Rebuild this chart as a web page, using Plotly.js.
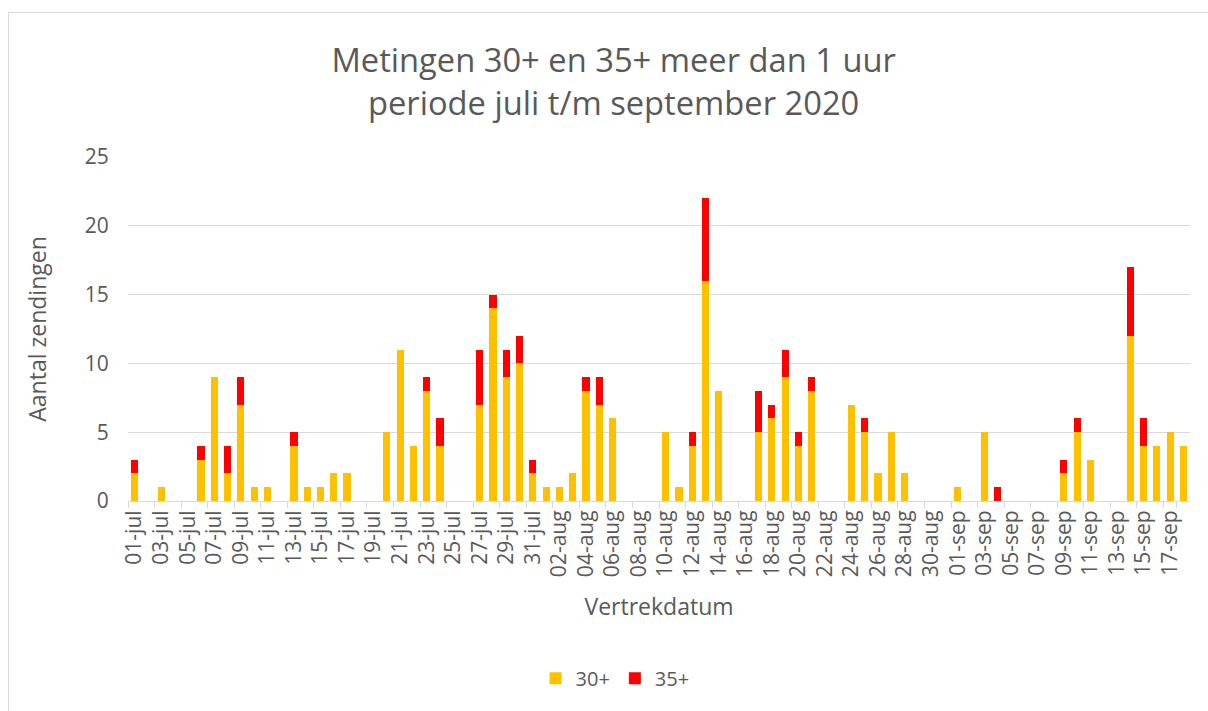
<!DOCTYPE html>
<html>
<head>
<meta charset="utf-8">
<script src="https://cdn.plot.ly/plotly-3.0.1.min.js"></script>
<style>
html,body{margin:0;padding:0;background:#fff;}
#frame{position:absolute;left:8px;top:12px;width:1300px;height:800px;border-left:1px solid #d9d9d9;border-top:1px solid #d9d9d9;pointer-events:none;}
#chart{width:1208px;height:711px;}
</style>
</head>
<body>
<div id="chart"></div>
<div id="frame"></div>
<script>
// Dates (Vertrekdatum) 01-jul .. 18-sep 2020
const julDays = 31, augDays = 31, sepDays = 18;
function pad(n){return (n<10?'0':'')+n;}
const categories = [];
for(let d=1; d<=julDays; d++) categories.push(pad(d)+'-jul');
for(let d=1; d<=augDays; d++) categories.push(pad(d)+'-aug');
for(let d=1; d<=sepDays; d++) categories.push(pad(d)+'-sep');

// 30+ counts per day
const values30 = [
  // jul 1-31
  2,0,1,0,0,3,9,2,7,1,1,0,4,1,1,2,2,0,0,5,11,4,8,4,0,0,7,14,9,10,2,
  // aug 1-31
  1,1,2,8,7,6,0,0,0,5,1,4,16,8,0,0,5,6,9,4,8,0,0,7,5,2,5,2,0,0,0,
  // sep 1-18
  1,0,5,0,0,0,0,0,2,5,3,0,0,12,4,4,5,4
];
// 35+ counts per day
const values35 = [
  // jul 1-31
  1,0,0,0,0,1,0,2,2,0,0,0,1,0,0,0,0,0,0,0,0,0,1,2,0,0,4,1,2,2,1,
  // aug 1-31
  0,0,0,1,2,0,0,0,0,0,0,1,6,0,0,0,3,1,2,1,1,0,0,0,1,0,0,0,0,0,0,
  // sep 1-18
  0,0,0,1,0,0,0,0,1,1,0,0,0,5,2,0,0,0
];
const tickLabels = categories.filter((c,i)=> i%2===0);

const font = "'Open Sans', 'DejaVu Sans', sans-serif";
const grey = '#595959';

const traces = [
  {type:'bar', name:'30+', x:categories, y:values30, marker:{color:'#FFC000'}, hoverinfo:'x+y'},
  {type:'bar', name:'35+', x:categories, y:values35, marker:{color:'#FF0000'}, hoverinfo:'x+y'}
];

const layout = {
  width:1208, height:711,
  barmode:'stack', bargap:0.46,
  paper_bgcolor:'#ffffff', plot_bgcolor:'#ffffff',
  margin:{l:128, r:18, t:157, b:210},
  font:{family:font, color:grey, size:21},
  title:{text:'Metingen 30+ en 35+ meer dan 1 uur<br>periode juli t/m september 2020',
         font:{family:font, size:32.7, color:grey}, x:0.508, xref:'container', xanchor:'center',
         y:0.8987, yref:'container', yanchor:'middle'},
  xaxis:{type:'category', tickmode:'array', tickvals:tickLabels, ticktext:tickLabels,
         tickangle:-90, tickson:'boundaries', ticks:'outside', ticklen:6, tickcolor:'#d9d9d9',
         showline:true, linecolor:'#d9d9d9', linewidth:1, showgrid:false,
         tickfont:{family:font, size:21, color:grey},
         title:{text:'Vertrekdatum', font:{family:font, size:23, color:grey}, standoff:22}},
  yaxis:{range:[0,25], dtick:5, tick0:0, showgrid:true, gridcolor:'#d9d9d9', gridwidth:1,
         zeroline:false, showline:false, ticks:'outside', ticklen:14, tickcolor:'rgba(0,0,0,0)',
         tickfont:{family:font, size:21, color:grey},
         title:{text:'Aantal zendingen', font:{family:font, size:23, color:grey}, standoff:31}},
  legend:{orientation:'h', x:0.4586, xanchor:'center', y:-0.515, yanchor:'middle',
          font:{family:font, size:20, color:grey}, traceorder:'normal'},
  showlegend:true
};

Plotly.newPlot('chart', traces, layout, {displayModeBar:false, staticPlot:true});
</script>
</body>
</html>
